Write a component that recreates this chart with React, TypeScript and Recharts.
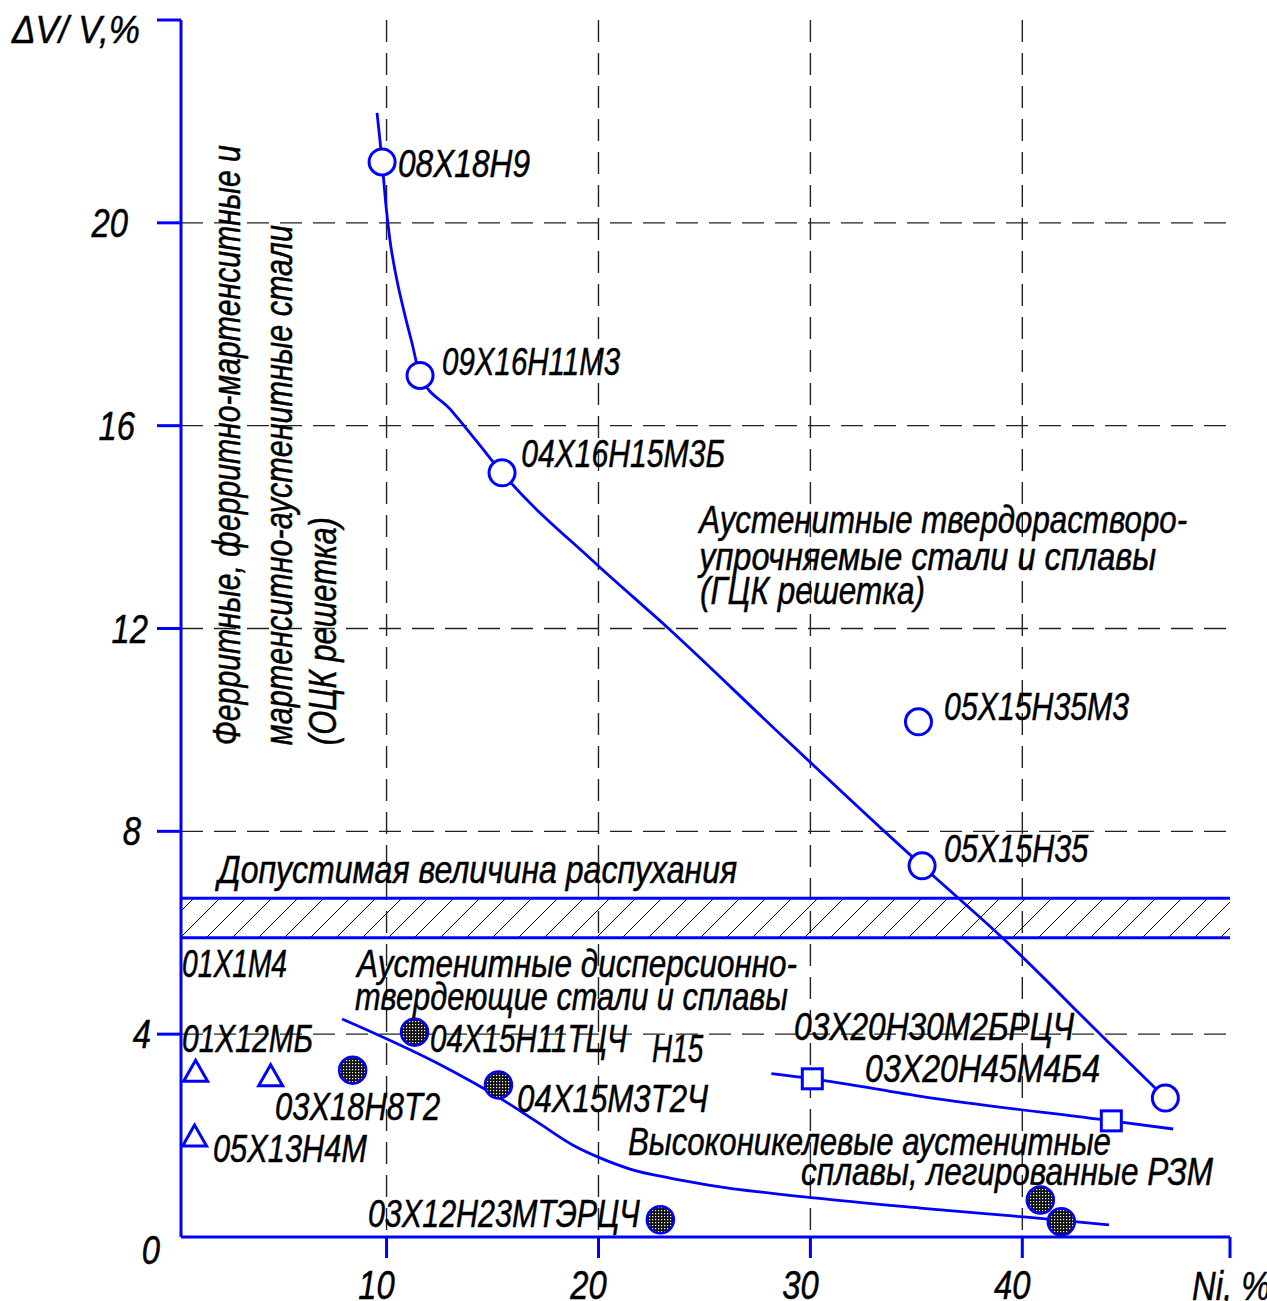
import React from "react";
import {
  ComposedChart,
  Line,
  Scatter,
  XAxis,
  YAxis,
  CartesianGrid,
  ReferenceArea,
  ReferenceLine,
  ReferenceDot,
} from "recharts";

const BLUE = "#0000ff";
const FONT = "'Liberation Sans', Arial, sans-serif";

// austenitic solid-solution steels (main curve)
const mainNi = [9.55, 9.79, 9.97, 10.16, 10.45, 10.82, 11.2, 11.58, 12.99, 14.2, 15.45, 19.74, 23.28, 28.57, 33.57, 35.27, 39.06, 43.82, 46.75];
const mainSwell = [22.17, 21.2, 20.35, 19.66, 18.95, 18.26, 17.63, 16.99, 16.33, 15.72, 15.07, 13.33, 12.01, 9.92, 7.97, 7.32, 5.9, 3.94, 2.74];

// dispersion-hardening steels (lower curve)
const dispNi = [7.9, 12.38, 15.5, 17.24, 18.89, 20.07, 21.49, 23.38, 25.12, 30.17, 35.18, 40.22, 44.09];
const dispSwell = [4.3, 3.43, 2.7, 2.23, 1.79, 1.56, 1.34, 1.16, 1.03, 0.77, 0.57, 0.39, 0.24];

// high-nickel alloys with rare earths
const highNi = [28.16, 30.09, 35.42, 44.2, 47.12];
const highSwell = [3.22, 3.12, 2.76, 2.29, 2.13];

// markers
const openNi = [9.79, 11.58, 15.45, 35.1, 35.27, 46.75];
const openSwell = [21.2, 16.99, 15.07, 10.16, 7.32, 2.74];
const darkNi = [8.4, 11.32, 15.28, 22.92, 40.85, 41.84];
const darkSwell = [3.29, 4.04, 3.0, 0.34, 0.73, 0.3];
const squareNi = [30.09, 44.2];
const squareSwell = [3.12, 2.29];
const triNi = [0.99, 4.53, 0.94];
const triSwell = [3.27, 3.18, 1.99];

const xTicks = [10, 20, 30, 40, 49.8];
const yTicks = [0, 4, 8, 12, 16, 20, 24];
const band = [5.9, 6.68];

const zip = (xs: number[], ys: number[]) => xs.map((x, i) => ({ x, y: ys[i] }));

// annotations: text, anchor (Ni, swelling), text length in px
const notes = [
  { text: "08Х18Н9", x: 10.54, y: 20.9, w: 132 },
  { text: "09Х16Н11М3", x: 12.62, y: 17.0, w: 178 },
  { text: "04Х16Н15М3Б", x: 16.35, y: 15.18, w: 204 },
  { text: "05Х15Н35М3", x: 36.31, y: 10.2, w: 185 },
  { text: "05Х15Н35", x: 36.31, y: 7.39, w: 144 },
  { text: "01Х1М4", x: 0.35, y: 5.13, w: 105 },
  { text: "01Х12МБ", x: 0.35, y: 3.65, w: 131 },
  { text: "03Х18Н8Т2", x: 4.74, y: 2.31, w: 165 },
  { text: "05Х13Н4М", x: 1.81, y: 1.48, w: 154 },
  { text: "04Х15Н11ТЦЧ", x: 12.05, y: 3.65, w: 197 },
  { text: "Н15", x: 22.53, y: 3.45, w: 51 },
  { text: "04Х15М3Т2Ч", x: 16.16, y: 2.47, w: 191 },
  { text: "03Х12Н23МТЭРЦЧ", x: 9.12, y: 0.2, w: 272 },
  { text: "03Х20Н30М2БРЦЧ", x: 29.23, y: 3.88, w: 280 },
  { text: "03Х20Н45М4Б4", x: 32.58, y: 3.06, w: 235 },
  { text: "Допустимая величина распухания", x: 2.05, y: 6.98, w: 519 },
  { text: "Аустенитные дисперсионно-", x: 8.61, y: 5.13, w: 440 },
  { text: "твердеющие стали и сплавы", x: 8.51, y: 4.48, w: 433 },
  { text: "Аустенитные твердорастворо-", x: 24.75, y: 13.88, w: 488 },
  { text: "упрочняемые стали и сплавы", x: 24.75, y: 13.15, w: 457 },
  { text: "(ГЦК решетка)", x: 24.79, y: 12.48, w: 225 },
  { text: "Высоконикелевые аустенитные", x: 21.39, y: 1.62, w: 483 },
  { text: "сплавы, легированные РЗМ", x: 29.56, y: 1.03, w: 412 },
];

// vertical (rotated) annotation lines
const sideNotes = [
  { text: "Ферритные, ферритно-мартенситные и", x: 3.08, y: 9.7, w: 600 },
  { text: "мартенситно-аустенитные стали", x: 5.54, y: 9.7, w: 520 },
  { text: "(ОЦК решетка)", x: 7.61, y: 9.7, w: 228 },
];

const Note = ({ cx, cy, text, w, rotate }: any) => (
  <text
    x={0}
    y={0}
    transform={`translate(${cx},${cy})${rotate ? " rotate(-90)" : ""}`}
    textLength={w}
    lengthAdjust="spacingAndGlyphs"
    fontFamily={FONT}
    fontStyle="italic"
    fontSize={38}
    fill="#000"
    stroke="#000"
    strokeWidth={0.5}
  >
    {text}
  </text>
);

// label offsets relative to tick end (hand placed in the original)
const yLabelDx: Record<number, number> = { 0: 3, 4: -6, 8: -16, 12: -9, 16: -22, 20: -29 };

const YTick = ({ x, y, payload }: any) => {
  const v = payload.value;
  if (v === 24) {
    return (
      <g>
        <line x1={x} x2={x + 24} y1={y} y2={y} stroke={BLUE} strokeWidth={3} />
        <text x={x - 17} y={y + 23} textAnchor="end" textLength={128} lengthAdjust="spacingAndGlyphs"
          fontFamily={FONT} fontStyle="italic" fontSize={38} fill="#000" stroke="#000" strokeWidth={0.5}>ΔV/ V,%</text>
      </g>
    );
  }
  return (
    <g>
      {v !== 0 && <line x1={x} x2={x + 24} y1={y} y2={y} stroke={BLUE} strokeWidth={3} />}
      <text transform={`translate(${x + yLabelDx[v]},${y + (v === 0 ? 27 : 14)}) scale(0.82,1)`}
        textAnchor="end" fontFamily={FONT} fontStyle="italic" fontSize={40} fill="#000"
        stroke="#000" strokeWidth={0.5}>{v}</text>
    </g>
  );
};

const XTick = ({ x, y, payload }: any) => {
  const v = payload.value;
  const last = v === xTicks[xTicks.length - 1];
  return (
    <g>
      <line x1={x} x2={x} y1={y - 21} y2={y} stroke={BLUE} strokeWidth={3} />
      {last ? (
        <text transform={`translate(${x - 38},${y + 42}) scale(0.82,1)`} fontFamily={FONT}
          fontStyle="italic" fontSize={40} fill="#000" stroke="#000" strokeWidth={0.5}>Ni, %</text>
      ) : (
        <text transform={`translate(${x - 10},${y + 41}) scale(0.82,1)`} textAnchor="middle"
          fontFamily={FONT} fontStyle="italic" fontSize={40} fill="#000" stroke="#000" strokeWidth={0.5}>{v}</text>
      )}
    </g>
  );
};

const OpenCircle = ({ cx, cy }: any) => (
  <circle cx={cx} cy={cy} r={13} fill="#fff" stroke={BLUE} strokeWidth={3} />
);
const DarkCircle = ({ cx, cy }: any) => (
  <circle cx={cx} cy={cy} r={13.5} fill="url(#stipple)" stroke={BLUE} strokeWidth={2.5} />
);
const OpenSquare = ({ cx, cy }: any) => (
  <rect x={cx - 10} y={cy - 10} width={20} height={20} fill="#fff" stroke={BLUE} strokeWidth={3} />
);
const OpenTriangle = ({ cx, cy }: any) => (
  <polygon points={`${cx},${cy - 11} ${cx - 12},${cy + 10} ${cx + 12},${cy + 10}`}
    fill="none" stroke={BLUE} strokeWidth={3} />
);

export default function App() {
  return (
    <div style={{ position: "absolute", left: 0, top: 0, background: "#fff" }}>
      <ComposedChart width={1267} height={1301} margin={{ top: 20, right: 37, left: 21, bottom: 0 }}>
        <defs>
          <pattern id="hatch" patternUnits="userSpaceOnUse" width={26} height={26}>
            <path d="M0,26 L26,0 M-2,2 L2,-2 M24,28 L28,24" stroke="#000" strokeWidth={1} />
          </pattern>
          <pattern id="stipple" patternUnits="userSpaceOnUse" width={3} height={3}>
            <rect width={3} height={3} fill="#111" />
            <rect x={1} y={1} width={1.2} height={1.2} fill="#fff" />
          </pattern>
        </defs>

        <CartesianGrid stroke="#222" strokeWidth={1.4} strokeDasharray="22 11"
          horizontalValues={[4, 8, 12, 16, 20]} verticalValues={[10, 20, 30, 40]} />

        <XAxis type="number" dataKey="x" domain={[0.3, 49.8]} ticks={xTicks} height={64}
          axisLine={{ stroke: BLUE, strokeWidth: 3 }} tickLine={false} tickSize={21} tickMargin={0}
          tick={<XTick />} interval={0} allowDataOverflow />
        <YAxis type="number" dataKey="y" domain={[0, 24]} ticks={yTicks} width={160}
          axisLine={{ stroke: BLUE, strokeWidth: 3 }} tickLine={false} tickSize={24} tickMargin={0}
          tick={<YTick />} interval={0} allowDataOverflow />

        <ReferenceArea y1={band[0]} y2={band[1]} fill="url(#hatch)" fillOpacity={1} stroke="none" />
        <ReferenceLine y={band[0]} stroke={BLUE} strokeWidth={3} />
        <ReferenceLine y={band[1]} stroke={BLUE} strokeWidth={3} />

        <Line data={zip(mainNi, mainSwell)} dataKey="y" type="monotone" stroke={BLUE} strokeWidth={2.8}
          dot={false} activeDot={false} isAnimationActive={false} />
        <Line data={zip(dispNi, dispSwell)} dataKey="y" type="monotone" stroke={BLUE} strokeWidth={2.8}
          dot={false} activeDot={false} isAnimationActive={false} />
        <Line data={zip(highNi, highSwell)} dataKey="y" type="monotone" stroke={BLUE} strokeWidth={2.8}
          dot={false} activeDot={false} isAnimationActive={false} />

        <Scatter data={zip(openNi, openSwell)} dataKey="y" shape={<OpenCircle />} isAnimationActive={false} />
        <Scatter data={zip(darkNi, darkSwell)} dataKey="y" shape={<DarkCircle />} isAnimationActive={false} />
        <Scatter data={zip(squareNi, squareSwell)} dataKey="y" shape={<OpenSquare />} isAnimationActive={false} />
        <Scatter data={zip(triNi, triSwell)} dataKey="y" shape={<OpenTriangle />} isAnimationActive={false} />

        {notes.map((n) => (
          <ReferenceDot key={n.text} x={n.x} y={n.y} r={1} ifOverflow="visible"
            shape={(p: any) => <Note cx={p.cx} cy={p.cy} text={n.text} w={n.w} />} />
        ))}
        {sideNotes.map((n) => (
          <ReferenceDot key={n.text} x={n.x} y={n.y} r={1} ifOverflow="visible"
            shape={(p: any) => <Note cx={p.cx} cy={p.cy} text={n.text} w={n.w} rotate />} />
        ))}
      </ComposedChart>
    </div>
  );
}
